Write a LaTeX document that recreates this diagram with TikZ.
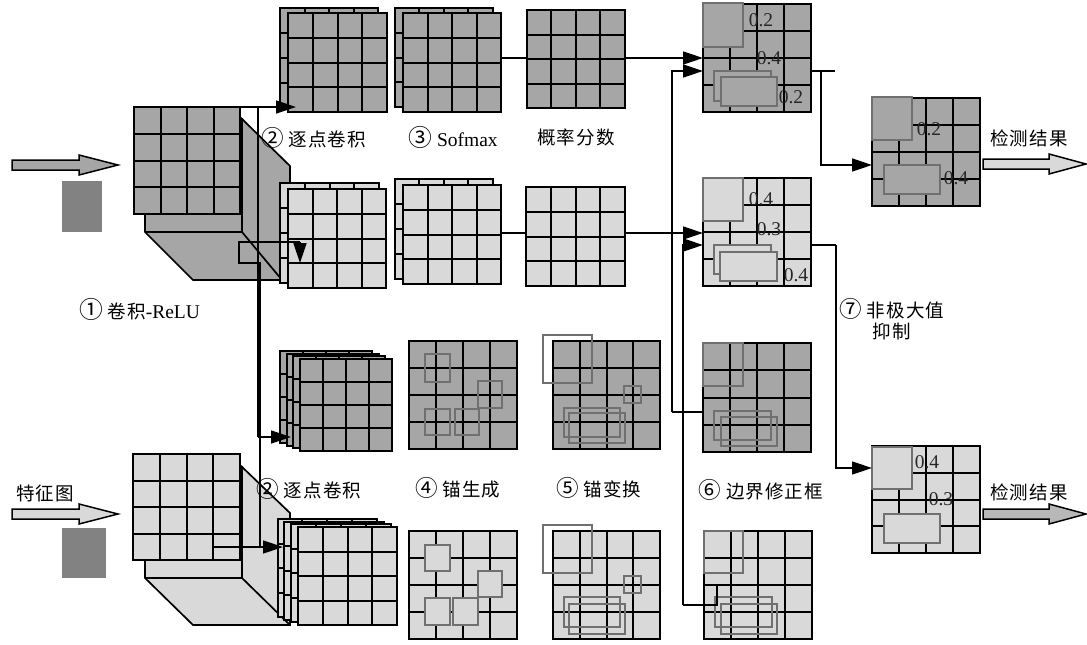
\documentclass[tikz,border=0pt]{standalone}
\usepackage{fontspec}
\setmainfont{Liberation Serif}
\newfontfamily\cjk[LetterSpace=6]{Noto Sans CJK SC}
\newfontfamily\cdigfont[Scale=1.22]{Noto Sans CJK SC}
\newcommand{\cdig}[1]{{\cdigfont #1}}
\usetikzlibrary{calc,arrows.meta}
\definecolor{dk}{HTML}{A6A6A6}
\definecolor{lt}{HTML}{D9D9D9}
\definecolor{bxc}{HTML}{707070}
\definecolor{pat}{HTML}{828282}
\definecolor{outd}{HTML}{B8B8B8}
\tikzset{
  x=1pt,y=-1pt,
  gridbox/.style={draw=black,line width=2pt,inner sep=0pt,outer sep=0pt,anchor=north west},
  gridline/.style={draw=black,line width=2pt},
  anchorbox/.style={draw=bxc,line width=1.8pt},
  conn/.style={draw=black,line width=1.5pt},
  arr/.style={conn,-{Triangle[length=20pt,width=13pt]}},
  cubeedge/.style={draw=black,line width=1.7pt,line join=miter},
  bigarrow/.style={draw=black,line width=1.5pt,line join=miter},
  lab/.style={font=\fontsize{18.5}{22}\selectfont,inner sep=0pt},
  latlab/.style={font=\fontsize{19.5}{22}\selectfont,inner sep=0pt},
  score/.style={font=\fontsize{19.5}{22}\selectfont,inner sep=0pt,text=black!85},
}
% name, x0,y0,x1,y1, fill
\newcommand{\gridn}[6]{%
  \node[gridbox,fill=#6,minimum width={(#4-#2)*1pt},minimum height={(#5-#3)*1pt}] (#1) at (#2,#3) {};
  \foreach \f in {0.25,0.5,0.75}{
    \draw[gridline] ($(#1.north west)!\f!(#1.north east)$) -- ($(#1.south west)!\f!(#1.south east)$);
    \draw[gridline] ($(#1.north west)!\f!(#1.south west)$) -- ($(#1.north east)!\f!(#1.south east)$);
  }%
}
\newcommand{\bx}[5]{\draw[anchorbox,#5] (#1,#2) rectangle (#3,#4);}
\newcommand{\bigarr}[5]{% x0, xhead, x1, y, fill
  \draw[bigarrow,fill=#5] (#1,#4-5) -- (#2,#4-5) -- (#2,#4-10) -- (#3,#4) -- (#2,#4+10) -- (#2,#4+5) -- (#1,#4+5) -- cycle;}
\newcommand{\cubeback}[8]{% fill, topy, fronty(bottom), backbottom, bottom
  \draw[cubeedge,fill=#1] (240,#2) -- (290,#3) -- (290,#4) -- (193,#4) -- (145,#5) -- (145,#6) -- (240,#6) -- cycle;
  \draw[cubeedge] (242,#7) -- (242,#5) -- (145,#5);
  \draw[cubeedge] (242,#5) -- (#8,#4);
}
\begin{document}
\begin{tikzpicture}
\useasboundingbox (0,0) rectangle (1087,645);
\fill[white] (0,0) rectangle (1087,645);

% patches and input arrows
\fill[pat] (62,181) rectangle (102,232);
\fill[pat] (62,528) rectangle (106,578);
\bigarr{12}{79}{118}{165}{dk}
\bigarr{12}{79}{118}{514}{lt}

% cubes
\cubeback{dk}{117}{166}{280}{232}{214}{118}{282}
\gridn{cubeD}{134}{107}{240}{214}{dk}
\cubeback{lt}{465}{513}{625}{578}{560}{466}{290}
\gridn{cubeL}{133}{454}{240}{560}{lt}

% row 1
\gridn{a1b}{280}{8}{378}{108}{dk}
\gridn{a1}{288}{13}{387}{112}{dk}
\gridn{a2b}{394.5}{8}{493}{107}{dk}
\gridn{a2}{403}{13}{501}{112}{dk}
\gridn{a3}{526.5}{10}{625}{108}{dk}
% row 2
\gridn{b1b}{280}{183}{379}{283}{lt}
\gridn{b1}{288}{189}{386}{288}{lt}
\gridn{b2b}{394.5}{179}{493}{279}{lt}
\gridn{b2}{403}{185}{501}{284}{lt}
\gridn{b3}{526}{187}{625}{286}{lt}
% row 3 stack
\gridn{c1a}{280}{351}{372}{443}{dk}
\gridn{c1b}{286.7}{353.7}{378.7}{445.7}{dk}
\gridn{c1c}{293.3}{356.3}{385.3}{448.3}{dk}
\gridn{c1}{300}{359}{392}{451}{dk}
% row 4 stack
\gridn{d1a}{277.5}{519}{377}{617}{lt}
\gridn{d1b}{284}{521.7}{383.5}{619.7}{lt}
\gridn{d1c}{291}{524.3}{390.5}{622.3}{lt}
\gridn{d1}{298}{527}{397}{625}{lt}

% anchors
\gridn{c2}{409}{341}{517}{449}{dk}
\bx{425}{354}{450}{382}{}
\bx{478}{381}{502}{408}{}
\bx{425}{409}{450}{435}{}
\bx{455}{409}{479}{435}{}
\gridn{d2}{409}{531}{517}{639}{lt}
\bx{425}{545}{450}{571}{fill=lt}
\bx{478}{571}{502}{597}{fill=lt}
\bx{425}{598}{450}{625}{fill=lt}
\bx{453}{598}{478}{625}{fill=lt}
% anchor transform
\gridn{c3}{553}{341}{660}{449}{dk}
\bx{543}{335}{592}{383}{}
\bx{624}{386}{641}{403}{}
\bx{564}{408}{620}{437}{}
\bx{569}{413}{625}{443}{}
\gridn{d3}{553}{531}{660}{639}{lt}
\bx{543}{525}{592}{573}{}
\bx{624}{576}{641}{593}{}
\bx{564}{597}{620}{627}{}
\bx{569}{604}{625}{634}{}
% boundary corrected
\gridn{c4}{703}{343}{811}{452}{dk}
\bx{703}{343}{743}{386}{}
\bx{714}{411}{771}{440}{}
\bx{721}{417}{777}{446}{}
\gridn{d4}{704}{531}{812}{639}{lt}
\bx{704}{531}{743}{573}{}
\bx{715}{597}{772}{627}{}
\bx{721}{604}{777}{634}{}
% merged top
\gridn{a4}{703}{4}{811}{112}{dk}
\bx{703}{3}{743}{47}{fill=dk}
\bx{714}{71}{771}{101}{fill=dk}
\bx{721}{77}{777}{106}{fill=dk}
\gridn{b4}{703}{178}{811}{286}{lt}
\bx{703}{178}{743}{221}{fill=lt}
\bx{714}{245}{771}{274}{fill=lt}
\bx{720}{252}{777}{281}{fill=lt}
% outputs
\gridn{o1}{872}{98}{980}{206}{dk}
\bx{872}{97}{912}{140}{fill=dk}
\bx{884}{165}{940}{194}{fill=dk}
\gridn{o2}{872}{446}{980}{553}{lt}
\bx{872}{447}{912}{489}{fill=lt}
\bx{884}{514}{940}{543}{fill=lt}
\bigarr{983}{1049}{1086}{164}{lt}
\bigarr{983}{1049}{1086}{514}{outd}

% connector junctions
\coordinate (tipA) at (296,107);
\coordinate (j1) at (258,107);
\coordinate (j2) at (258,437);
\coordinate (tipC) at (291,437);
\coordinate (k0) at (300,242);
\coordinate (tipB) at (300,263);
\coordinate (k1) at (239,242);
\coordinate (k2) at (239,263);
\coordinate (k3) at (260,263);
\coordinate (k4) at (260,547);
\coordinate (lS) at (213,547);
\coordinate (tipD) at (283,547);
\coordinate (a5) at (625,58);
\coordinate (b5) at (625,233);
\coordinate (m1) at (672,71);
\coordinate (m2) at (672,412);
\coordinate (n1) at (683,245);
\coordinate (n2) at (683,605);
\coordinate (n3) at (717,605);
\coordinate (n4) at (717,585);
\coordinate (p0) at (835,71);
\coordinate (p1) at (821,71);
\coordinate (p2) at (821,165);
\coordinate (q0) at (836,245);
\coordinate (q1) at (836,468);

\draw[arr] (cubeD.north east) -- (tipA);
\draw[conn] (j1) -- (j2);
\draw[arr] (j2) -- (tipC);
\draw[conn] (k4) -- (k3) -- (k2) -- (k1) -- (k0);
\draw[arr] (k0) -- (tipB);
\draw[arr] (lS) -- (tipD);
\draw[conn] (a2.east |- a5) -- (a3.west |- a5);
\draw[arr] (a5) -- (a4.west |- a5);
\draw[conn] (b2.east |- b5) -- (b3.west |- b5);
\draw[arr] (b5) -- (b4.west |- b5);
\draw[arr] (m2) -- (m1) -- (a4.west |- m1);
\draw[conn] (c4.west |- m2) -- (m2);
\draw[arr] (n2) -- (n1) -- (b4.west |- n1);
\draw[conn] (n4) -- (n3) -- (n2);
\draw[conn] (a4.east |- p0) -- (p0);
\draw[arr] (p1) -- (p2) -- (o1.west |- p2);
\draw[conn] (b4.east |- q0) -- (q0);
\draw[arr] (q0) -- (q1) -- (o2.west |- q1);

% scores
\node[score] (s1) at (761,20) {0.2};
\node[score] (s2) at (769,58) {0.4};
\node[score] (s3) at (791,97) {0.2};
\node[score] (s4) at (761,199) {0.4};
\node[score] (s5) at (769,229) {0.3};
\node[score] (s6) at (796,275) {0.4};
\node[score] (s7) at (929,129) {0.2};
\node[score] (s8) at (956,178) {0.4};
\node[score] (s9) at (927,462) {0.4};
\node[score] (s10) at (941,499) {0.3};

% labels
\node[latlab] (t1) at (139.5,309) {\cdig{①} {\fontsize{18.5}{22}\selectfont\cjk 卷积}-ReLU};
\node[lab] (t2) at (313.5,138) {\cdig{②} {\cjk 逐点卷积}};
\node[latlab] (t3) at (453,137) {\cdig{③} Sofmax};
\node[lab] (t4) at (576,137) {{\cjk 概率分数}};
\node[lab] (t5) at (309,489) {\cdig{②} {\cjk 逐点卷积}};
\node[lab] (t6) at (45,493) {{\cjk 特征图}};
\node[lab] (t7) at (458,488) {\cdig{④} {\cjk 锚生成}};
\node[lab] (t8) at (599,488) {\cdig{⑤} {\cjk 锚变换}};
\node[lab] (t9) at (761,490) {\cdig{⑥} {\cjk 边界修正框}};
\node[lab] (t10) at (892,309) {\cdig{⑦} {\cjk 非极大值}};
\node[lab] (t11) at (892,331) {{\cjk 抑制}};
\node[lab] (t12) at (1029,138) {{\cjk 检测结果}};
\node[lab] (t13) at (1029,492) {{\cjk 检测结果}};
\end{tikzpicture}
\end{document}
